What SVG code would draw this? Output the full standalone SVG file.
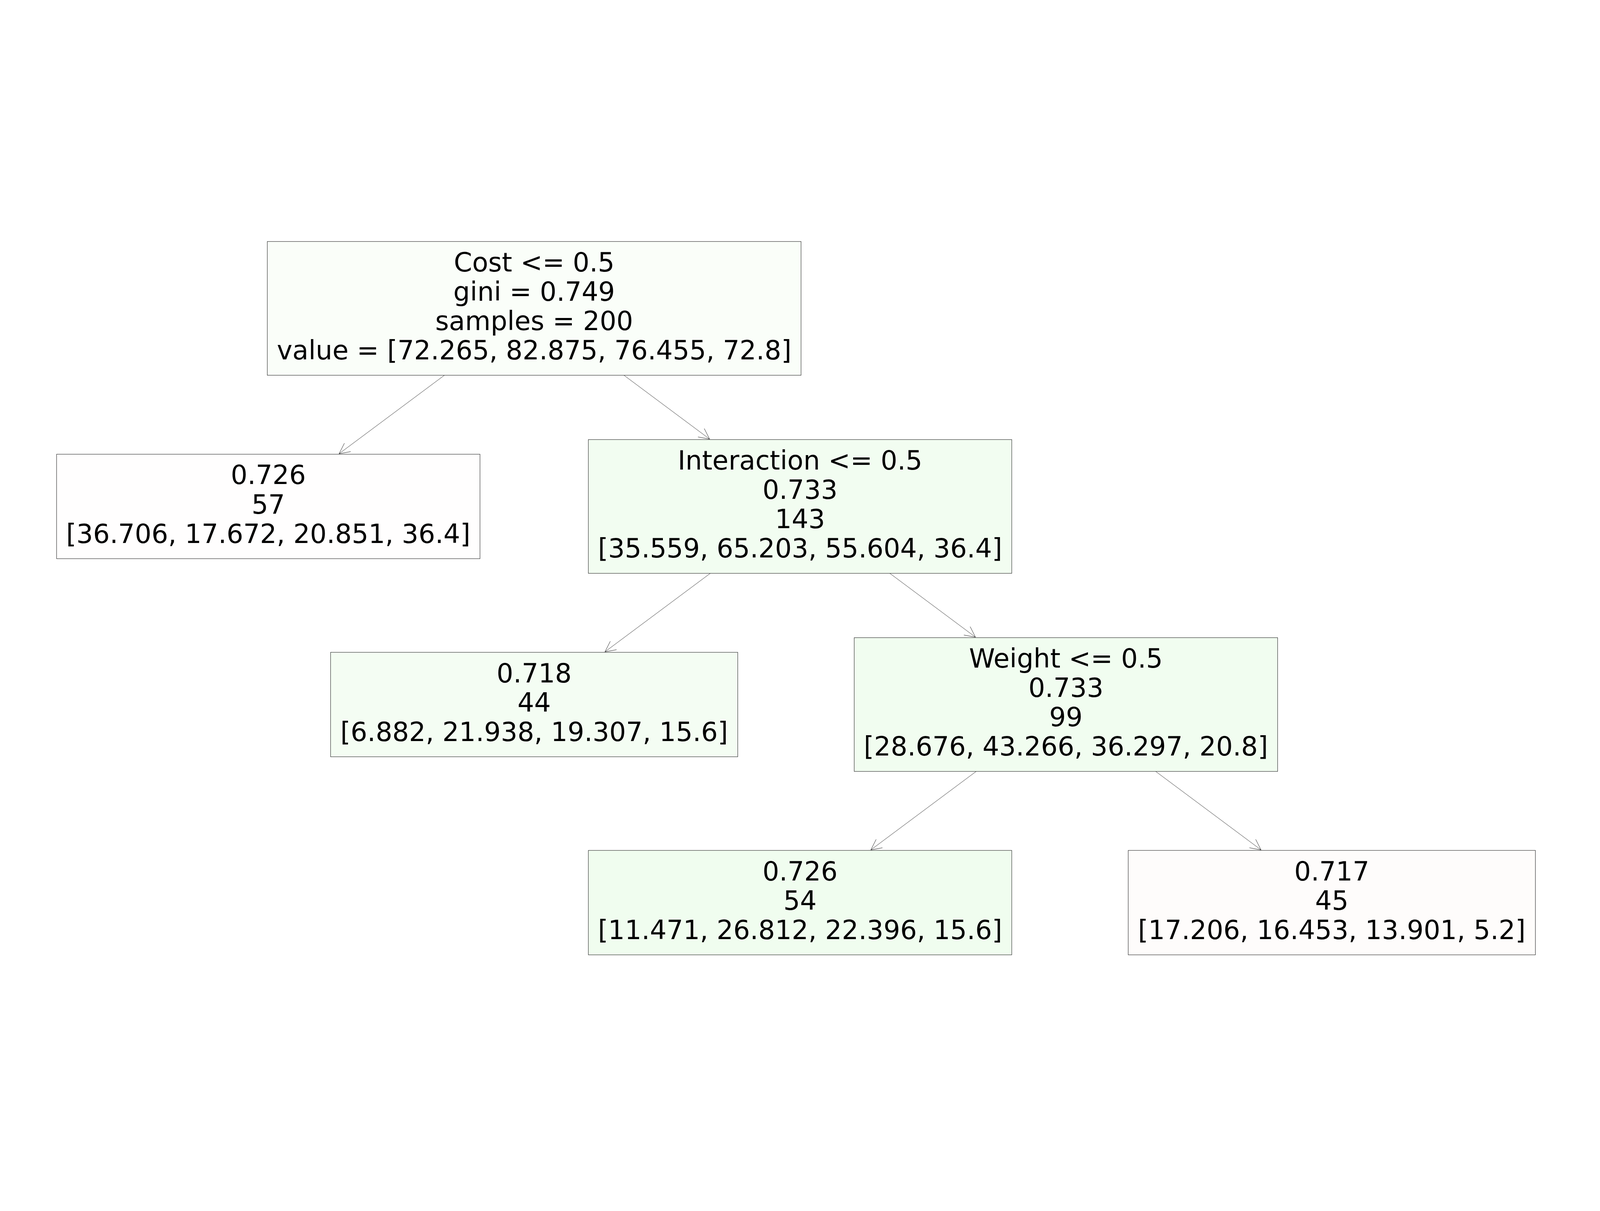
<svg xmlns="http://www.w3.org/2000/svg" width="6220" height="3100" viewBox="0 0 6220 3100">
  <defs>
    <style>
      svg { width: 100vw; height: 100vh; }
      .box { stroke: #000000; stroke-width: 1.4; }
      .t { font-family: "DejaVu Sans", "Liberation Sans", sans-serif; font-size: 102px; fill: #000000; text-anchor: middle; }
      .edge { stroke: #000000; stroke-width: 1.2; fill: none; marker-end: url(#head); }
    </style>
    <marker id="head" markerUnits="userSpaceOnUse" orient="auto" refX="0" refY="0" markerWidth="60" markerHeight="60" overflow="visible">
      <path d="M-41,-20.4 L0,0 L-41,20.4" fill="none" stroke="#000000" stroke-width="1.2"/>
    </marker>
  </defs>
  <rect x="0" y="0" width="6220" height="3100" fill="#ffffff"/>

  <g id="connectors">
    <line class="edge" x1="1727.6" y1="655" x2="1318.2" y2="960"/>
    <line class="edge" x1="2425.6" y1="655" x2="2758.5" y2="903"/>
    <line class="edge" x1="2761.2" y1="1425" x2="2351.8" y2="1730"/>
    <line class="edge" x1="3459.2" y1="1425" x2="3792.1" y2="1673"/>
    <line class="edge" x1="3794.8" y1="2195" x2="3385.4" y2="2500"/>
    <line class="edge" x1="4492.8" y1="2195" x2="4902.2" y2="2500"/>
  </g>

  <g id="node-root">
    <rect class="box" x="1039.1" y="135" width="2075" height="520" fill="#fafef9"/>
    <text class="t" x="2076.6" y="251.5">Cost &lt;= 0.5</text>
    <text class="t" x="2076.6" y="365.5">gini = 0.749</text>
    <text class="t" x="2076.6" y="479.5">samples = 200</text>
    <text class="t" x="2076.6" y="593.5">value = [72.265, 82.875, 76.455, 72.8]</text>
  </g>

  <g id="node-leaf-57">
    <rect class="box" x="220" y="962" width="1646" height="406" fill="#fffefe"/>
    <text class="t" x="1043" y="1078.5">0.726</text>
    <text class="t" x="1043" y="1192.5">57</text>
    <text class="t" x="1043" y="1306.5">[36.706, 17.672, 20.851, 36.4]</text>
  </g>

  <g id="node-interaction">
    <rect class="box" x="2287.2" y="905" width="1646" height="520" fill="#f2fdf1"/>
    <text class="t" x="3110.2" y="1021.5">Interaction &lt;= 0.5</text>
    <text class="t" x="3110.2" y="1135.5">0.733</text>
    <text class="t" x="3110.2" y="1249.5">143</text>
    <text class="t" x="3110.2" y="1363.5">[35.559, 65.203, 55.604, 36.4]</text>
  </g>

  <g id="node-leaf-44">
    <rect class="box" x="1285.1" y="1732" width="1583" height="406" fill="#f4fdf3"/>
    <text class="t" x="2076.6" y="1848.5">0.718</text>
    <text class="t" x="2076.6" y="1962.5">44</text>
    <text class="t" x="2076.6" y="2076.5">[6.882, 21.938, 19.307, 15.6]</text>
  </g>

  <g id="node-weight">
    <rect class="box" x="3320.8" y="1675" width="1646" height="520" fill="#f1fdf0"/>
    <text class="t" x="4143.8" y="1791.5">Weight &lt;= 0.5</text>
    <text class="t" x="4143.8" y="1905.5">0.733</text>
    <text class="t" x="4143.8" y="2019.5">99</text>
    <text class="t" x="4143.8" y="2133.5">[28.676, 43.266, 36.297, 20.8]</text>
  </g>

  <g id="node-leaf-54">
    <rect class="box" x="2287.2" y="2502" width="1646" height="406" fill="#f0fdef"/>
    <text class="t" x="3110.2" y="2618.5">0.726</text>
    <text class="t" x="3110.2" y="2732.5">54</text>
    <text class="t" x="3110.2" y="2846.5">[11.471, 26.812, 22.396, 15.6]</text>
  </g>

  <g id="node-leaf-45">
    <rect class="box" x="4385.9" y="2502" width="1583" height="406" fill="#fefcfb"/>
    <text class="t" x="5177.4" y="2618.5">0.717</text>
    <text class="t" x="5177.4" y="2732.5">45</text>
    <text class="t" x="5177.4" y="2846.5">[17.206, 16.453, 13.901, 5.2]</text>
  </g>
</svg>
